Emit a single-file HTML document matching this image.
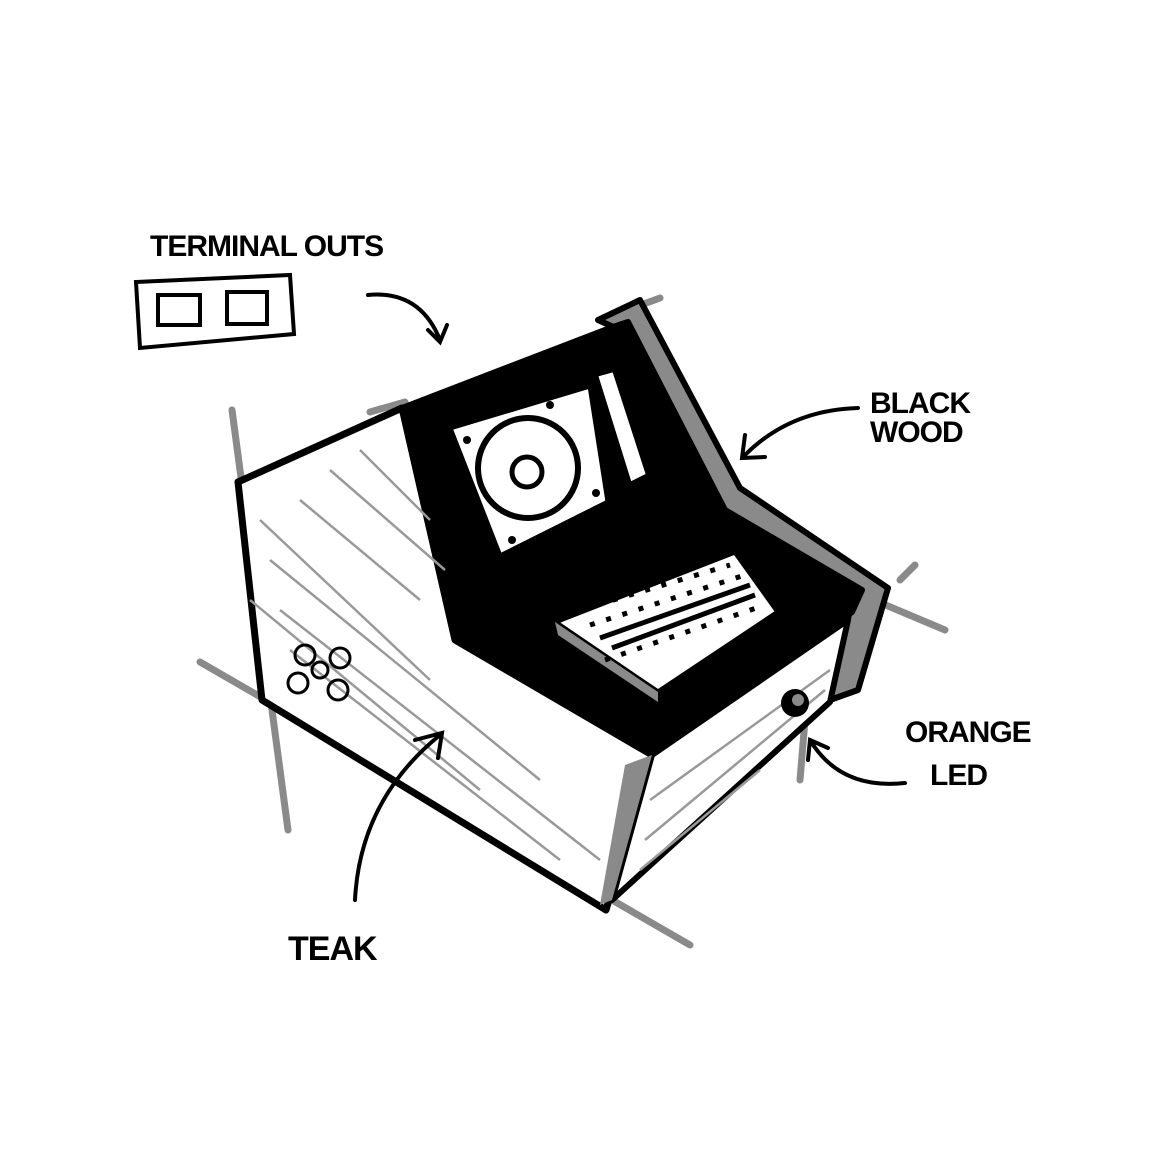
<!DOCTYPE html>
<html><head><meta charset="utf-8"><style>
html,body{margin:0;padding:0;background:#fff}
svg{display:block}
text{font-family:"Liberation Sans",sans-serif;font-weight:bold;fill:#000}
</style></head><body>
<svg width="1167" height="1167" viewBox="0 0 1167 1167" xmlns="http://www.w3.org/2000/svg">
<rect width="1167" height="1167" fill="#fff"/>
<g stroke="#8a8a8a" stroke-width="7" fill="none" stroke-linecap="round">
<line x1="232" y1="410" x2="288" y2="830"/>
<line x1="200" y1="662" x2="690" y2="945"/>
<line x1="370" y1="412" x2="405" y2="402"/>
<line x1="900" y1="580" x2="915" y2="565"/>
<line x1="850" y1="590" x2="945" y2="630"/>
<line x1="805" y1="720" x2="800" y2="780"/>
<line x1="600" y1="320" x2="660" y2="298"/>
</g>
<polygon points="598,320 640,300 740,488 888,588 858,690 830,700 850,610 720,520 620,330" fill="#8a8a8a" stroke="#000" stroke-width="6" stroke-linejoin="round"/>
<polygon points="402,408 610,328 628,322 725,510 862,590 852,612 650,752 455,640" fill="#000" stroke="#000" stroke-width="6" stroke-linejoin="round"/>
<polygon points="380,425 402,412 455,640 445,640" fill="#8a8a8a"/>
<polygon points="238,482 402,408 455,640 652,755 606,910 262,700" fill="#fff" stroke="#000" stroke-width="7" stroke-linejoin="round"/>
<g stroke="#999" stroke-width="2.5" fill="none">
<path d="M260 520 L430 680 M270 560 L540 780 M280 610 L600 860 M300 500 L420 600 M250 600 L480 790 M330 470 L445 570 M290 650 L560 860 M360 450 L430 520"/>
</g>
<polygon points="652,755 848,620 830,702 612,900" fill="#fff" stroke="#000" stroke-width="6" stroke-linejoin="round"/>
<polygon points="625,765 652,755 612,900 600,905" fill="#8a8a8a"/>
<g stroke="#999" stroke-width="2.5"><path d="M650 800 L830 670 M645 840 L825 690 M640 870 L760 770"/></g>
<polygon points="450,428 590,386 608,502 500,556" fill="#fff" stroke="#000" stroke-width="5"/>
<circle cx="528" cy="468" r="50" fill="none" stroke="#000" stroke-width="6"/>
<circle cx="527" cy="472" r="15" fill="none" stroke="#000" stroke-width="5"/>
<g fill="#000"><circle cx="467" cy="440" r="4"/><circle cx="550" cy="405" r="4"/><circle cx="596" cy="493" r="4"/><circle cx="512" cy="540" r="4"/></g>
<polygon points="596,375 614,370 648,475 630,484" fill="#fff" stroke="#000" stroke-width="4"/>
<polygon points="555,622 735,552 778,612 658,692" fill="#fff" stroke="#000" stroke-width="5"/>
<polygon points="558,635 658,702 658,692 555,622" fill="#8a8a8a"/>
<g stroke="#000" stroke-width="5" stroke-dasharray="5 12"><path d="M580 610 L730 565 M590 625 L745 575 M605 660 L765 605"/></g>
<g stroke="#000" stroke-width="5"><path d="M600 638 L750 585 M612 648 L755 595"/></g>
<circle cx="795" cy="703" r="14" fill="#000"/><circle cx="798" cy="700" r="6" fill="#8a8a8a"/>
<g fill="none" stroke="#000" stroke-width="3"><circle cx="305" cy="655" r="10"/><circle cx="340" cy="658" r="10"/><circle cx="298" cy="683" r="10"/><circle cx="338" cy="690" r="10"/><circle cx="320" cy="670" r="8"/></g>
<g fill="none" stroke="#000" stroke-width="4">
<polygon points="136,282 290,275 294,334 140,348"/>
<rect x="158" y="295" width="42" height="30"/><rect x="227" y="292" width="40" height="32"/>
</g>
<g fill="none" stroke="#000" stroke-width="4" stroke-linecap="round">
<path d="M368 295 Q420 290 440 340 M428 330 L440 342 L447 325"/>
<path d="M858 408 Q790 410 745 455 M745 435 L742 458 L765 457"/>
<path d="M905 783 Q840 790 810 740 M808 760 L810 740 L828 748"/>
<path d="M355 900 Q360 800 440 735 M415 740 L442 733 L438 758"/>
</g>
<text x="150" y="256" font-size="30" letter-spacing="-1">TERMINAL OUTS</text>
<text x="870" y="413" font-size="30" letter-spacing="-1">BLACK</text>
<text x="870" y="442" font-size="30" letter-spacing="-1">WOOD</text>
<text x="905" y="742" font-size="30" letter-spacing="-1">ORANGE</text>
<text x="930" y="785" font-size="30" letter-spacing="-1">LED</text>
<text x="288" y="960" font-size="34" letter-spacing="-1">TEAK</text>
</svg>
</body></html>
